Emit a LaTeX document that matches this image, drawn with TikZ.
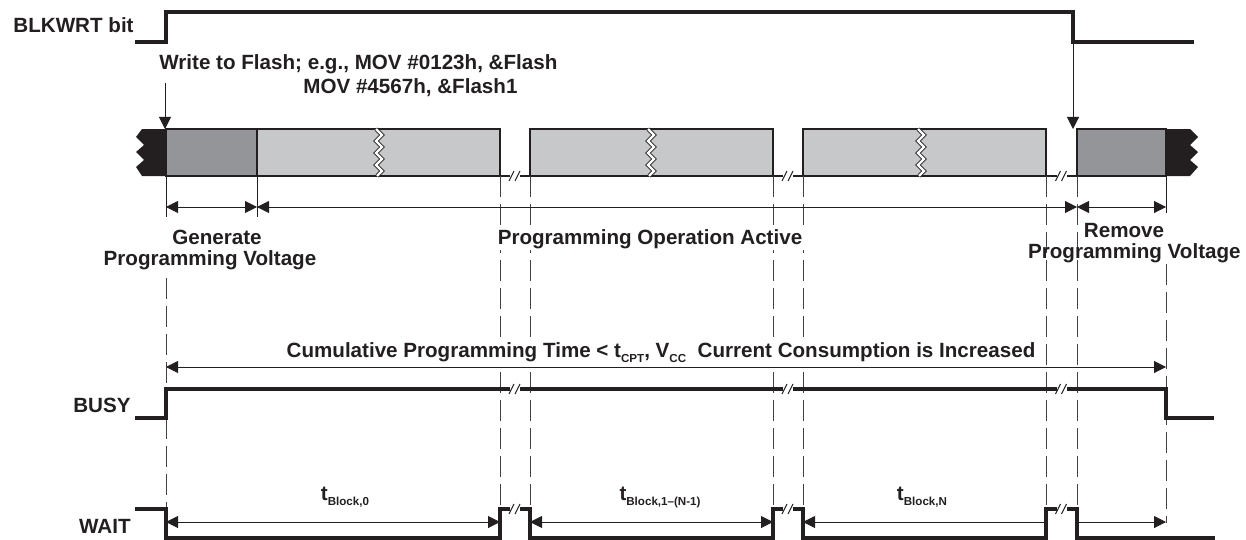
\documentclass[tikz,border=0pt]{standalone}
\usepackage{fontspec}
\setmainfont{Liberation Sans}
\usetikzlibrary{arrows.meta}

\definecolor{tiblack}{HTML}{231F20}
\definecolor{tidark}{HTML}{939598}
\definecolor{tilight}{HTML}{C7C8CA}

\newcommand{\lsub}[1]{\raisebox{-0.55ex}{\fontsize{5.8}{6}\selectfont #1}}

\begin{document}
\begin{tikzpicture}[x=0.5pt,y=-0.5pt,
  >={Triangle[length=6pt,width=6pt]},
  lbl/.style={font=\fontsize{10.3}{12}\selectfont\bfseries, inner sep=0pt, text=tiblack},
  sig/.style={line width=1.8pt, draw=tiblack},
  dimline/.style={line width=0.5pt, draw=tiblack},
  guide/.style={line width=0.5pt, draw=tiblack!85, dash pattern=on 10.5pt off 3.5pt},
  box/.style={line width=1pt, draw=tiblack},
  tear/.style={draw=tiblack, line width=0.4pt, double=white, double distance=1.2pt}]
\useasboundingbox (0,0) rectangle (1246,540);

% flash bar
\fill[tiblack] (142,129) -- (166,129) -- (166,176) -- (142,176) -- (136,167) -- (144,160)
  -- (136,152) -- (144,145) -- (136,137) -- cycle;
\fill[tiblack] (1166,129) -- (1190,129) -- (1198,137) -- (1190,145) -- (1198,152)
  -- (1190,160) -- (1198,167) -- (1190,176) -- (1166,176) -- cycle;
\filldraw[box, fill=tidark] (166,129) rectangle (257,176);
\filldraw[box, fill=tilight] (257,129) rectangle (500,176);
\filldraw[box, fill=tilight] (530,129) rectangle (773,176);
\filldraw[box, fill=tilight] (803,129) rectangle (1046,176);
\filldraw[box, fill=tidark] (1077,129) rectangle (1166,176);

\foreach \t in {379,651,921} {
  \draw[tear] (\t-3,129) -- (\t+3,135) -- (\t-3,141) -- (\t+3,147) -- (\t-3,153)
    -- (\t+3,159) -- (\t-3,165) -- (\t+3,171) -- (\t-2,176);
}

% gaps between blocks
\foreach \a/\b in {500/530,773/803,1046/1077} {
  \pgfmathsetmacro\m{(\a+\b)/2}
  \draw[box] (\a,176) -- (\b,176);
  \fill[white] (\m-5,170) rectangle (\m+5,182);
  \draw[dimline] (\m-6,181) -- (\m-1,171) (\m,181) -- (\m+5,171);
}

% guide lines
\draw[dimline] (166,176) -- (166,217) (257,176) -- (257,217) (1166,176) -- (1166,213);
\draw[guide] (166,278) -- (166,538);
\draw[guide] (1166,264) -- (1166,523);
\foreach \x in {500,530,773,803,1046,1077}
  \draw[guide] (\x,176) -- (\x,509);

% signals
\draw[sig] (135,42) -- (166,42) -- (166,12) -- (1073,12) -- (1073,42) -- (1194,42);
\draw[sig] (135,418) -- (166,418) -- (166,389) -- (1166,389) -- (1166,418) -- (1214,418);
\draw[sig] (135,509) -- (166,509) -- (166,538) -- (500,538) -- (500,509) -- (530,509)
  -- (530,538) -- (773,538) -- (773,509) -- (803,509) -- (803,538) -- (1046,538)
  -- (1046,509) -- (1077,509) -- (1077,538) -- (1215,538);

\foreach \m in {515,788,1061.5} {
  \foreach \yy in {389,509} {
    \fill[white] (\m-5,\yy-4) rectangle (\m+5,\yy+4);
    \draw[dimline] (\m-6,\yy+5) -- (\m-1,\yy-5) (\m,\yy+5) -- (\m+5,\yy-5);
  }
}

% arrows
\draw[dimline,->] (165,83) -- (165,129);
\draw[dimline,->] (1073,42) -- (1073,129);
\draw[dimline,<->] (166,207) -- (257,207);
\draw[dimline,<->] (257,207) -- (1077,207);
\draw[dimline,<->] (1077,207) -- (1166,207);
\draw[dimline,<->] (166,367) -- (1166,367);
\draw[dimline,<->] (166,522) -- (500,522);
\draw[dimline,<->] (530,522) -- (773,522);
\draw[dimline,<-] (803,522) -- (1046,522);
\draw[dimline,->] (1077,522) -- (1166,522);

% labels
\node[lbl, anchor=base east] (blkwrt) at (134,33) {BLKWRT bit};
\node[lbl, anchor=base east] (busy) at (131,412) {BUSY};
\node[lbl, anchor=base east] (wait) at (131,533) {WAIT};
\node[lbl, anchor=base west] (write1) at (159,70) {Write to Flash; e.g., MOV \#0123h, \&Flash};
\node[lbl, anchor=base west] (write2) at (303,94) {MOV \#4567h, \&Flash1};
\node[lbl, anchor=base] (gen1) at (217,244) {Generate};
\node[lbl, anchor=base] (gen2) at (210,265) {Programming Voltage};
\node[lbl, anchor=base, fill=white, inner sep=1pt] (active) at (650,244) {Programming Operation Active};
\node[lbl, anchor=base] (rem1) at (1124,237) {Remove};
\node[lbl, anchor=base east] (rem2) at (1241,258) {Programming Voltage};
\node[lbl, anchor=base, fill=white, inner sep=1pt] (cpt) at (661,357)
  {Cumulative Programming Time < t\lsub{CPT}, V\lsub{CC}\ \ Current Consumption is Increased};
\node[lbl, anchor=base] (tb0) at (345,500) {t\lsub{Block,0}};
\node[lbl, anchor=base] (tb1) at (660,500) {t\lsub{Block,1--(N-1)}};
\node[lbl, anchor=base] (tbn) at (922,500) {t\lsub{Block,N}};
\end{tikzpicture}
\end{document}
